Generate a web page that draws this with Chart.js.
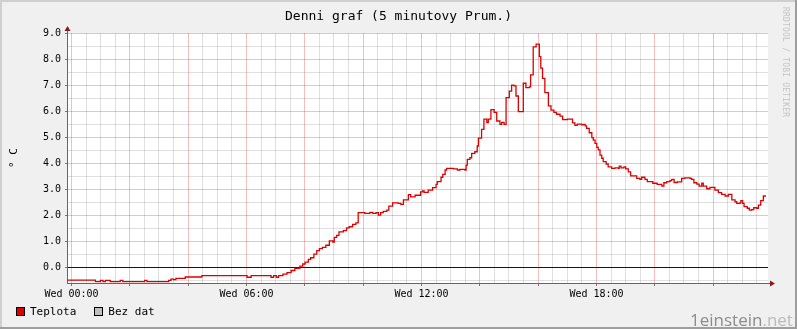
<!DOCTYPE html>
<html lang="cs">
<head>
    <meta charset="UTF-8">
    <title>Denni graf (5 minutovy Prum.)</title>
    <style>
        body {
            margin: 0;
            padding: 0;
            overflow: hidden;
            background: #F0F0F0;
        }

        #wrap {
            position: relative;
            width: 797px;
            height: 329px;
        }

        #legend {
            position: absolute;
            left: 16px;
            top: 305px;
            height: 13px;
            display: flex;
            font-family: "DejaVu Sans Mono", monospace;
            font-size: 11px;
            line-height: 13px;
            color: #000;
        }

        .item {
            display: flex;
            align-items: center;
            margin-right: 18px;
        }

        .box {
            width: 7px;
            height: 7px;
            border: 1px solid #000;
            margin-right: 5px;
        }

        #credit {
            position: absolute;
            left: 781px;
            top: 7px;
            writing-mode: vertical-rl;
            font-family: "DejaVu Sans Mono", monospace;
            font-size: 8px;
            color: #C4C4C4;
            letter-spacing: 0.2px;
        }

        #mark {
            position: absolute;
            left: 690px;
            top: 311px;
            font-family: "Open Sans", sans-serif;
            font-size: 17px;
            line-height: 17px;
            color: #8C8C8C;
        }

        #mark span {
            color: #BBBBBB;
        }
    </style>
    <script src="https://cdn.jsdelivr.net/npm/chart.js"></script>
</head>
<body>
    <div id="wrap">
        <canvas id="tempChart" width="797" height="329"></canvas>
        <div id="legend"></div>
        <div id="credit">RRDTOOL / TOBI OETIKER</div>
        <div id="mark">1einstein<span>.net</span></div>
    </div>

    <script>
        // step changes of the 5 minute average, hours since Wed 00:00 -> degC
        const hours = [
            -0.15, 0.82, 0.99, 1.08, 1.16, 1.33, 1.67, 1.76, 2.51, 2.59,
            3.33, 3.41, 3.50, 3.58, 3.90, 4.47, 6.02, 6.16, 6.84, 6.93,
            7.02, 7.10, 7.25, 7.39, 7.53, 7.66, 7.83, 7.93, 8.01, 8.12,
            8.20, 8.31, 8.41, 8.50, 8.60, 8.72, 8.84, 8.96, 9.01, 9.09,
            9.17, 9.32, 9.43, 9.52, 9.64, 9.75, 9.83, 10.06, 10.23, 10.33,
            10.44, 10.52, 10.60, 10.69, 10.81, 10.88, 11.01, 11.20, 11.29, 11.38,
            11.55, 11.63, 11.78, 11.97, 12.04, 12.09, 12.23, 12.38, 12.50, 12.54,
            12.67, 12.73, 12.81, 12.86, 13.09, 13.23, 13.32, 13.49, 13.53, 13.57,
            13.66, 13.72, 13.83, 13.91, 13.95, 14.06, 14.14, 14.24, 14.29, 14.38,
            14.49, 14.58, 14.69, 14.75, 14.83, 14.90, 15.01, 15.09, 15.17, 15.24,
            15.32, 15.49, 15.58, 15.70, 15.74, 15.83, 15.93, 16.04, 16.09, 16.15,
            16.23, 16.35, 16.44, 16.54, 16.63, 16.75, 16.84, 17.00, 17.18, 17.26,
            17.34, 17.49, 17.55, 17.61, 17.66, 17.75, 17.84, 17.89, 17.95, 18.01,
            18.06, 18.12, 18.18, 18.23, 18.33, 18.40, 18.52, 18.63, 18.75, 18.78,
            18.84, 18.94, 19.00, 19.09, 19.17, 19.38, 19.49, 19.55, 19.66, 19.74,
            19.93, 20.08, 20.24, 20.31, 20.41, 20.52, 20.58, 20.66, 20.77, 20.92,
            21.03, 21.21, 21.26, 21.34, 21.44, 21.52, 21.61, 21.66, 21.78, 21.89,
            22.06, 22.18, 22.29, 22.41, 22.52, 22.64, 22.75, 22.81, 22.92, 22.95,
            23.01, 23.06, 23.17, 23.24, 23.32, 23.39, 23.49, 23.55, 23.63, 23.72,
            23.81
        ];
        const teplota = [
            -0.49, -0.55, -0.50, -0.55, -0.50, -0.55, -0.50, -0.55, -0.50, -0.55,
            -0.50, -0.45, -0.47, -0.42, -0.37, -0.32, -0.38, -0.32, -0.38, -0.32,
            -0.38, -0.32, -0.26, -0.20, -0.12, -0.04, 0.05, 0.13, 0.20, 0.31,
            0.37, 0.51, 0.64, 0.72, 0.77, 0.85, 1.02, 0.97, 1.15, 1.23,
            1.36, 1.41, 1.52, 1.56, 1.65, 1.71, 2.10, 2.07, 2.11, 2.07,
            2.10, 2.01, 2.10, 2.15, 2.20, 2.35, 2.48, 2.46, 2.42, 2.59,
            2.79, 2.71, 2.77, 2.90, 2.94, 2.88, 2.97, 3.06, 3.19, 3.29,
            3.46, 3.57, 3.74, 3.80, 3.78, 3.74, 3.76, 3.74, 3.93, 4.15,
            4.21, 4.38, 4.44, 4.66, 4.96, 5.30, 5.69, 5.56, 5.69, 6.06,
            5.95, 5.62, 5.49, 5.57, 5.49, 6.52, 6.77, 7.00, 6.97, 6.58,
            5.98, 7.07, 6.90, 6.93, 7.39, 8.47, 8.57, 8.09, 7.65, 7.26,
            6.71, 6.20, 6.04, 5.95, 5.88, 5.81, 5.67, 5.69, 5.55, 5.45,
            5.50, 5.47, 5.49, 5.43, 5.34, 5.17, 4.98, 4.89, 4.76, 4.61,
            4.51, 4.31, 4.19, 4.06, 3.97, 3.86, 3.80, 3.82, 3.80, 3.89,
            3.82, 3.86, 3.78, 3.67, 3.51, 3.42, 3.38, 3.46, 3.38, 3.29,
            3.23, 3.19, 3.12, 3.25, 3.29, 3.33, 3.38, 3.26, 3.28, 3.42,
            3.44, 3.42, 3.38, 3.25, 3.20, 3.12, 3.23, 3.12, 3.02, 3.07,
            2.97, 2.87, 2.80, 2.74, 2.80, 2.59, 2.52, 2.46, 2.48, 2.56,
            2.46, 2.33, 2.27, 2.20, 2.22, 2.29, 2.27, 2.39, 2.56, 2.74,
            2.74
        ];

        const xLabelHours = [0, 6, 12, 18];
        const xLabelText = ['Wed 00:00', 'Wed 06:00', 'Wed 12:00', 'Wed 18:00'];
        const yLabelValues = [0, 1, 2, 3, 4, 5, 6, 7, 8, 9];

        const mono = '"DejaVu Sans Mono", monospace';
        const lineColor = '#DD0000';
        const noDataColor = '#C0C0C0';

        // rrdtool look: grey frame, white canvas, arrow heads
        const rrdFrame = {
            id: 'rrdFrame',
            beforeDraw(chart) {
                const c = chart.ctx;
                const a = chart.chartArea;
                const w = chart.width, h = chart.height;
                c.save();
                c.fillStyle = '#F0F0F0';
                c.fillRect(0, 0, w, h);
                c.fillStyle = '#CFCFCF';
                c.fillRect(0, 0, w, 2);
                c.fillRect(0, 0, 2, h);
                c.fillStyle = '#9E9E9E';
                c.fillRect(0, h - 2, w, 2);
                c.fillRect(w - 2, 0, 2, h);
                c.fillStyle = '#FFFFFF';
                c.fillRect(a.left, a.top, a.right - a.left, a.bottom - a.top);
                c.restore();
            },
            afterDraw(chart) {
                const c = chart.ctx;
                const a = chart.chartArea;
                c.save();
                c.strokeStyle = '#666666';
                c.lineWidth = 1;
                c.beginPath();
                c.moveTo(a.left + 0.5, a.top);
                c.lineTo(a.left + 0.5, a.top - 3);
                c.moveTo(a.right, a.bottom + 0.5);
                c.lineTo(a.right + 3, a.bottom + 0.5);
                c.stroke();
                c.fillStyle = '#8B1A1A';
                c.beginPath();
                c.moveTo(a.left + 0.5, a.top - 7);
                c.lineTo(a.left - 2.5, a.top - 2);
                c.lineTo(a.left + 3.5, a.top - 2);
                c.closePath();
                c.fill();
                c.beginPath();
                c.moveTo(a.right + 7, a.bottom + 0.5);
                c.lineTo(a.right + 2, a.bottom - 2.5);
                c.lineTo(a.right + 2, a.bottom + 3.5);
                c.closePath();
                c.fill();
                c.restore();
            }
        };

        const ctx = document.getElementById('tempChart').getContext('2d');
        const chart = new Chart(ctx, {
            type: 'line',
            data: {
                datasets: [
                    {
                        label: 'Teplota',
                        data: hours.map((h, i) => ({ x: h, y: teplota[i] })),
                        borderColor: lineColor,
                        backgroundColor: lineColor,
                        borderWidth: 1.3,
                        stepped: true,
                        pointRadius: 0,
                        fill: false
                    },
                    {
                        label: 'Bez dat',
                        data: [],
                        borderColor: noDataColor,
                        backgroundColor: noDataColor,
                        pointRadius: 0
                    }
                ]
            },
            options: {
                responsive: false,
                animation: false,
                devicePixelRatio: 1,
                layout: {
                    padding: { left: 0, right: 0, top: 0, bottom: 26 }
                },
                plugins: {
                    tooltip: { enabled: false },
                    legend: { display: false },
                    title: {
                        display: true,
                        text: 'Denni graf (5 minutovy Prum.)',
                        color: '#000000',
                        font: { family: mono, size: 13, weight: 'normal' },
                        padding: { top: 9, bottom: 8.4 }
                    }
                },
                scales: {
                    x: {
                        type: 'linear',
                        min: -0.154,
                        max: 23.88,
                        afterBuildTicks(scale) {
                            const ticks = [];
                            for (let h = 0; h <= 23.5; h += 0.5) {
                                ticks.push({ value: h });
                            }
                            scale.ticks = ticks;
                        },
                        afterFit(scale) {
                            scale.height = 20;
                        },
                        ticks: {
                            autoSkip: false,
                            maxRotation: 0,
                            minRotation: 0,
                            padding: 2,
                            color: '#000000',
                            font: { family: mono, size: 10 },
                            callback(value) {
                                const i = xLabelHours.indexOf(value);
                                return i >= 0 ? xLabelText[i] : '';
                            }
                        },
                        grid: {
                            lineWidth: 1,
                            tickLength: 3,
                            color(c) {
                                return c.tick && c.tick.value % 2 === 0 ? 'rgba(230,0,0,0.26)' : 'rgba(120,120,120,0.24)';
                            },
                            tickColor(c) {
                                return c.tick && c.tick.value % 2 === 0 ? '#777777' : 'rgba(0,0,0,0)';
                            }
                        },
                        border: { display: true, color: '#666666', width: 1 }
                    },
                    y: {
                        type: 'linear',
                        position: 'left',
                        min: -0.6,
                        max: 9,
                        afterBuildTicks(scale) {
                            const ticks = [];
                            for (let v = -0.5; v <= 9; v += 0.5) {
                                ticks.push({ value: v });
                            }
                            scale.ticks = ticks;
                        },
                        afterFit(scale) {
                            scale.width = 67;
                        },
                        ticks: {
                            autoSkip: false,
                            padding: 4,
                            color: '#000000',
                            font: { family: mono, size: 10 },
                            callback(value) {
                                return yLabelValues.includes(value) ? value.toFixed(1) : '';
                            }
                        },
                        grid: {
                            lineWidth: 1,
                            tickLength: 2,
                            color(c) {
                                if (!c.tick) return 'rgba(0,0,0,0)';
                                if (c.tick.value === 0) return '#0000B4';
                                return Number.isInteger(c.tick.value) ? 'rgba(230,0,0,0.26)' : 'rgba(120,120,120,0.24)';
                            },
                            tickColor(c) {
                                return c.tick && Number.isInteger(c.tick.value) ? '#777777' : 'rgba(0,0,0,0)';
                            }
                        },
                        border: { display: true, color: '#666666', width: 1 },
                        title: {
                            display: true,
                            text: '° C',
                            color: '#000000',
                            font: { family: mono, size: 11 },
                            padding: { top: 8, bottom: 0 }
                        }
                    },
                    spacer: {
                        type: 'linear',
                        position: 'right',
                        display: true,
                        afterFit(scale) {
                            scale.width = 29;
                        },
                        ticks: { display: false },
                        grid: { display: false },
                        border: { display: false }
                    }
                }
            },
            plugins: [rrdFrame]
        });

        // legend in html, built from the datasets
        const legend = document.getElementById('legend');
        chart.data.datasets.forEach(ds => {
            const item = document.createElement('span');
            item.className = 'item';
            const box = document.createElement('span');
            box.className = 'box';
            box.style.background = ds.backgroundColor;
            item.appendChild(box);
            item.appendChild(document.createTextNode(ds.label));
            legend.appendChild(item);
        });
    </script>
</body>
</html>
